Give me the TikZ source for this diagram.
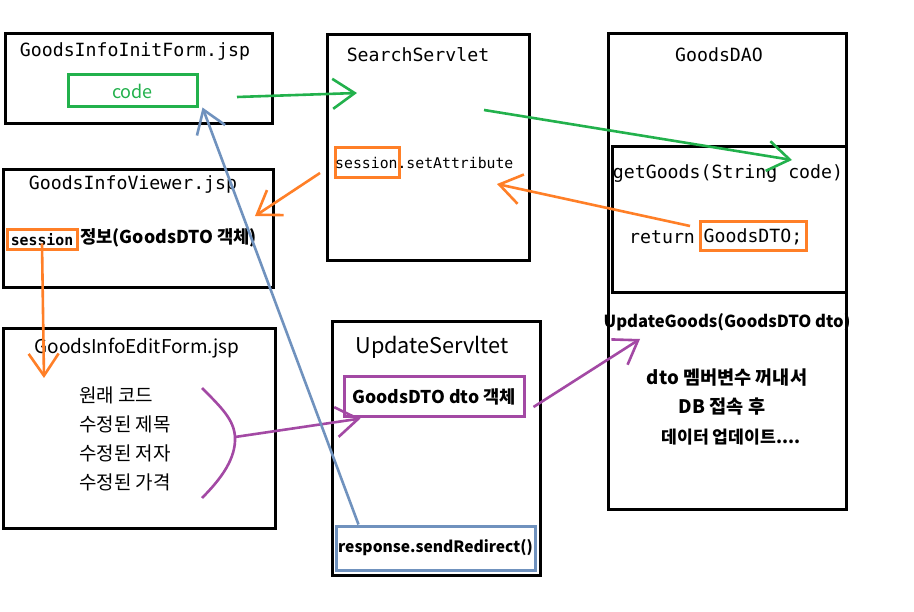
\documentclass[tikz,border=0pt]{standalone}
\usepackage{fontspec}
\setmainfont{Noto Sans CJK KR}
\setmonofont{DejaVu Sans Mono}
\usepackage{xcolor}
\usetikzlibrary{arrows.meta,positioning}

\definecolor{pgreen}{RGB}{34,177,76}
\definecolor{porange}{RGB}{255,127,39}
\definecolor{ppurple}{RGB}{163,73,164}
\definecolor{pblue}{RGB}{112,146,190}

\tikzset{
    block/.style={draw, line width=3pt, inner sep=0pt},
    mark box/.style={draw=#1, line width=3pt, inner sep=0pt},
    monotitle/.style={font=\fontsize{18.2}{20}\selectfont\ttfamily},
    sanstitle/.style={font=\fontsize{19}{22}\selectfont},
    boldtext/.style={font=\fontsize{#1}{20}\selectfont\bfseries},
    boldtext/.default=17,
    link/.style={line width=2.6pt, color=#1, -{Straight Barb[length=22pt,width=30pt]}}
}

\begin{document}
\begin{tikzpicture}[x=1pt, y=-1pt]
    \useasboundingbox[fill=white] (0,0) rectangle (914,612);

    % left column
    \node[block, minimum width=267, minimum height=90] (initform) at (138.5,79) {};
    \node[monotitle] (initformtitle) at (135,51) {GoodsInfoInitForm.jsp};
    \node[mark box=pgreen, minimum width=129, minimum height=32, text=pgreen, font=\fontsize{18}{22}\selectfont] (code) at (132.5,91) {code};

    \node[block, minimum width=270, minimum height=118] (viewer) at (138,229) {};
    \node[monotitle] (viewertitle) at (133,184) {GoodsInfoViewer.jsp};
    \node[mark box=porange, minimum width=70, minimum height=20, font=\fontsize{14.8}{16}\selectfont\ttfamily\bfseries] (viewsession) at (42,240) {session};
    \node[boldtext=17.7, anchor=west, inner sep=0pt] (viewinfo) at (80,238) {정보(GoodsDTO 객체)};

    \node[block, minimum width=272, minimum height=199] (editform) at (139,428.5) {};
    \node[sanstitle] (editformtitle) at (137,348) {GoodsInfoEditForm.jsp};
    \node[anchor=west, inner sep=0pt, align=left, font=\fontsize{19}{29}\selectfont] (fields) at (79,438.5) {원래 코드\\수정된 제목\\수정된 저자\\수정된 가격};

    % middle column
    \node[block, minimum width=202, minimum height=226] (search) at (428,148) {};
    \node[monotitle] (searchtitle) at (418,55) {SearchServlet};
    \node[mark box=porange, minimum width=64, minimum height=30] (searchsession) at (367,163) {};
    \node[anchor=west, inner sep=0pt, font=\fontsize{14.8}{16}\selectfont\ttfamily] (setattr) at (335,163) {session.setAttribute};

    \node[block, minimum width=208, minimum height=253] (update) at (436,448.5) {};
    \node[font=\fontsize{21.7}{26}\selectfont] (updatetitle) at (432,347) {UpdateServltet};
    \node[mark box=ppurple, minimum width=180, minimum height=40, boldtext=17.6] (dtobox) at (434,397) {GoodsDTO dto 객체};
    \node[mark box=pblue, minimum width=199, minimum height=44, boldtext=15.6] (redirect) at (435.5,548) {response.sendRedirect()};

    % right column
    \node[block, minimum width=238, minimum height=476] (dao) at (727,272) {};
    \node[monotitle] (daotitle) at (719,55) {GoodsDAO};
    \node[block, minimum width=234, minimum height=146] (getgoods) at (729,220) {};
    \node[monotitle] (getgoodstitle) at (728,174) {getGoods(String code)};
    \node[monotitle, anchor=west, inner sep=0pt] (returnword) at (629,237) {return};
    \node[mark box=porange, minimum width=106, minimum height=29, monotitle] (returndto) at (753,236.5) {GoodsDTO;};
    \node[boldtext=16.6] (updategoods) at (727,322) {UpdateGoods(GoodsDTO dto)};
    \node[boldtext=18.6] (daoline1) at (727,378) {dto 멤버변수 꺼내서};
    \node[boldtext=18.6] (daoline2) at (722,407) {DB 접속 후};
    \node[boldtext=17.2] (daoline3) at (731,437) {데이터 업데이트....};

    % free ends
    \coordinate (codeout) at (237,97);
    \coordinate (searchin) at (357,93);
    \coordinate (searchout) at (484,110);
    \coordinate (daoin) at (792,160);
    \coordinate (returnout) at (690,226);
    \coordinate (searchback) at (497,184);
    \coordinate (sessionout) at (320,173);
    \coordinate (viewerin) at (255,216);
    \coordinate (editin) at (44,378);
    \coordinate (bracetip) at (235,437);
    \coordinate (daoupdate) at (640,339);

    \draw[link=pgreen] (codeout) -- (searchin);
    \draw[link=pgreen] (searchout) -- (daoin);
    \draw[link=porange] (returnout) -- (searchback);
    \draw[link=porange] (sessionout) -- (viewerin);
    \draw[link=porange] ([yshift=8]viewsession.south) -- (editin);

    \draw[ppurple, line width=2.6pt] (202,388) .. controls (222,408) and (234,420) .. (bracetip)
        .. controls (236,458) and (222,478) .. (202,498);
    \draw[link=ppurple] (bracetip) -- ([xshift=18]dtobox.south west);
    \draw[link=ppurple] ([xshift=8,yshift=-10]dtobox.east) -- (daoupdate);

    \draw[link=pblue] ([xshift=24]redirect.north west) -- ([xshift=4,yshift=1]code.south east);
\end{tikzpicture}
\end{document}
